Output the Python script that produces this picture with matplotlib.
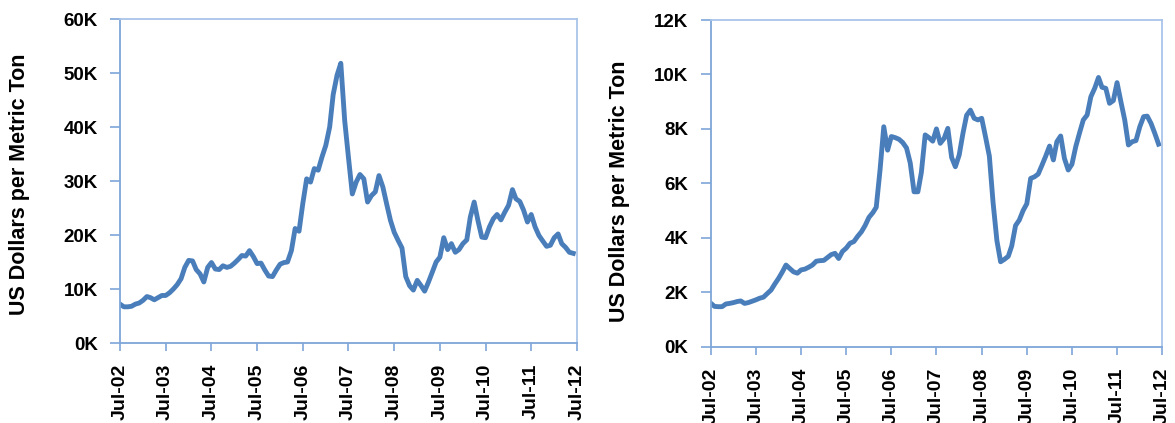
import matplotlib
matplotlib.use("Agg")
import matplotlib.pyplot as plt
import matplotlib.dates as mdates
from matplotlib.ticker import FuncFormatter, FixedLocator
import pandas as pd

# Monthly prices, Jul-2002 .. Jun-2012 (US$ per metric ton)
start_month = "2002-07-01"
nickel = [7200, 6700, 6700, 6800, 7200, 7400, 7900, 8600, 8400, 8000,
          8400, 8800, 8800, 9300, 10000, 10800, 11900, 14000, 15300, 15200,
          13600, 12800, 11300, 14000, 14900, 13700, 13600, 14300, 14000, 14200,
          14800, 15500, 16200, 16100, 17100, 16000, 14700, 14800, 13500, 12400,
          12300, 13500, 14600, 14900, 15000, 17100, 21200, 20700, 25800, 30400,
          29800, 32300, 32000, 34400, 36600, 40000, 46000, 49600, 51800, 41200,
          34400, 27600, 29800, 31200, 30400, 26100, 27300, 28000, 31000, 28900,
          25800, 22700, 20500, 19000, 17600, 12300, 10600, 9800, 11600, 10600,
          9600, 11300, 13100, 15000, 15900, 19500, 17300, 18400, 16800, 17300,
          18400, 19100, 23300, 26100, 22700, 19600, 19500, 21500, 23000, 23800,
          22800, 24200, 25500, 28400, 26700, 26200, 24600, 22400, 23800, 21500,
          19900, 18900, 17900, 18100, 19500, 20200, 18400, 17700, 16800, 16600]
copper = [1600, 1480, 1470, 1470, 1570, 1590, 1620, 1660, 1680, 1590,
          1620, 1670, 1720, 1780, 1820, 1950, 2080, 2300, 2510, 2750,
          3000, 2870, 2750, 2700, 2820, 2850, 2920, 3000, 3140, 3160,
          3170, 3280, 3380, 3430, 3240, 3500, 3620, 3800, 3860, 4050,
          4220, 4450, 4750, 4920, 5120, 6500, 8080, 7220, 7720, 7680,
          7620, 7500, 7300, 6750, 5690, 5690, 6400, 7780, 7680, 7550,
          8000, 7470, 7650, 8020, 6950, 6610, 7040, 7850, 8500, 8690,
          8390, 8330, 8390, 7710, 7000, 5300, 3900, 3120, 3210, 3320,
          3700, 4450, 4650, 5000, 5250, 6180, 6240, 6340, 6670, 7000,
          7370, 6860, 7530, 7740, 6920, 6490, 6700, 7350, 7860, 8330,
          8510, 9180, 9490, 9890, 9530, 9490, 8940, 9040, 9700, 9000,
          8330, 7410, 7530, 7570, 8080, 8450, 8470, 8200, 7840, 7440]
tick_years = list(range(2002, 2013))
nickel_yticks = [0, 10000, 20000, 30000, 40000, 50000, 60000]
copper_yticks = [0, 2000, 4000, 6000, 8000, 10000, 12000]
ylabel = "US Dollars per Metric Ton"

dates = pd.date_range(start_month, periods=len(nickel), freq="MS")
tick_dates = [pd.Timestamp(f"{y}-07-01") for y in tick_years]

plt.rcParams["font.family"] = ["Liberation Sans", "DejaVu Sans"]
fig = plt.figure(figsize=(11.75, 4.23), dpi=100)

LINE = "#4A7EBB"
AXIS = "#7EA6D8"
FRAME = "#A9C4E8"

def style(ax, yticks):
    ax.set_xlim(tick_dates[0], tick_dates[-1])
    ax.set_ylim(yticks[0], yticks[-1])
    ax.xaxis.set_major_locator(FixedLocator(mdates.date2num(tick_dates)))
    ax.xaxis.set_major_formatter(mdates.DateFormatter("%b-%y"))
    ax.yaxis.set_major_locator(FixedLocator(yticks))
    ax.yaxis.set_major_formatter(FuncFormatter(lambda v, p: f"{int(round(v / 1000))}K"))
    for s in ["left", "bottom"]:
        ax.spines[s].set_color(AXIS)
        ax.spines[s].set_linewidth(1.3)
    for s in ["top", "right"]:
        ax.spines[s].set_color(FRAME)
        ax.spines[s].set_linewidth(1.3)
    ax.tick_params(axis="y", direction="out", length=7, width=1.2, color=AXIS,
                   pad=9, labelsize=13.5)
    ax.tick_params(axis="x", direction="out", length=6, width=1.2, color=AXIS,
                   pad=9, labelsize=14, labelrotation=90)
    for lab in ax.get_xticklabels() + ax.get_yticklabels():
        lab.set_fontweight("bold")

W, H = 1175, 423
ax1 = fig.add_axes([120 / W, (H - 343) / H, 457 / W, 324 / H])
ax1.plot(dates, nickel, color=LINE, lw=3.5, solid_joinstyle="round")
style(ax1, nickel_yticks)

ax2 = fig.add_axes([710.7 / W, (H - 346.7) / H, 451.6 / W, 326.7 / H])
ax2.plot(dates, copper, color=LINE, lw=3.5, solid_joinstyle="round")
style(ax2, copper_yticks)

fig.text(20 / W, (H - 184.5) / H, ylabel, rotation=90, ha="center", va="center",
         fontsize=15.5, fontweight="bold")
fig.text(620 / W, (H - 191) / H, ylabel, rotation=90, ha="center", va="center",
         fontsize=15.5, fontweight="bold")

fig.savefig("out.png", dpi=100, facecolor="white")
